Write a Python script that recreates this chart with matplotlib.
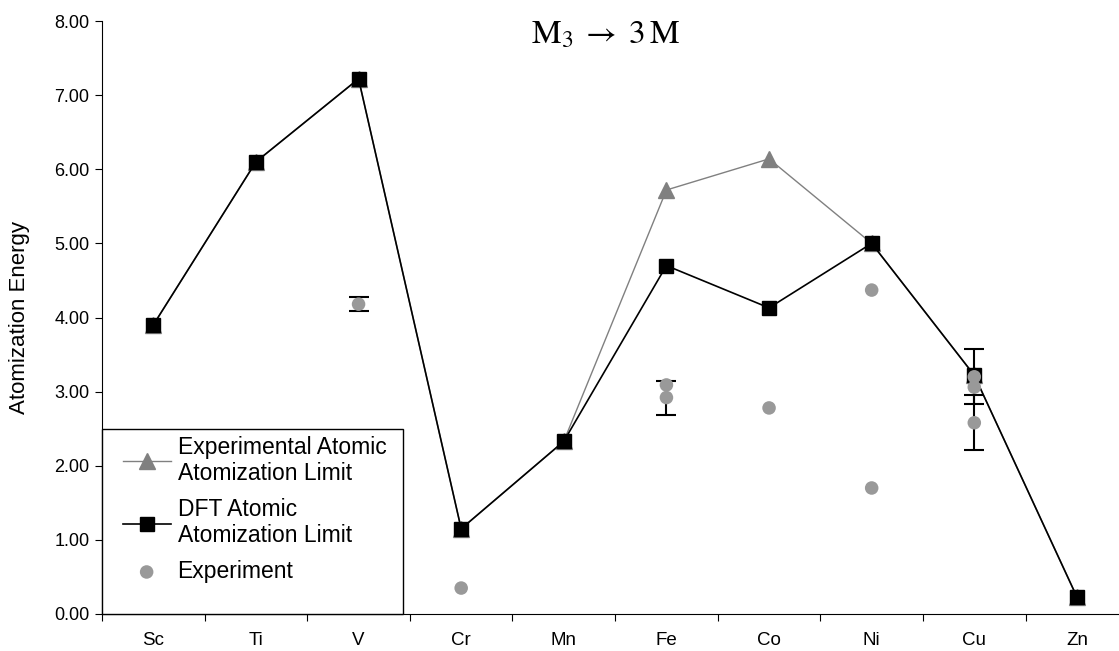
import matplotlib.pyplot as plt
import matplotlib.patches as mpatches
import numpy as np

plt.rcParams['font.family'] = ['Liberation Sans', 'DejaVu Sans']
plt.rcParams['mathtext.fontset'] = 'stix'

# Data
metals = ['Sc', 'Ti', 'V', 'Cr', 'Mn', 'Fe', 'Co', 'Ni', 'Cu', 'Zn']
exp_atomic_limit = [3.90, 6.10, 7.22, 1.15, 2.33, 5.72, 6.14, 5.00, 3.22, 0.23]
dft_atomic_limit = [3.90, 6.10, 7.22, 1.15, 2.33, 4.70, 4.13, 5.00, 3.22, 0.23]

# experiment points: metal index, value, error (0 = no bar)
exp_idx = [2, 3, 5, 5, 6, 7, 7, 8, 8, 8]
exp_val = [4.18, 0.35, 3.09, 2.92, 2.78, 4.37, 1.70, 3.20, 3.06, 2.58]
exp_err = [0.09, 0.0, 0.0, 0.23, 0.0, 0.0, 0.0, 0.37, 0.0, 0.37]

W, H = 1119, 651
fig = plt.figure(figsize=(W/100, H/100), dpi=100)
ax = fig.add_axes([102/W, 37/H, 1 - 102/W, (614-21)/H])

x = np.arange(len(metals))

l1, = ax.plot(x, exp_atomic_limit, color='#808080', lw=1, marker='^', ms=11,
              mfc='#808080', mec='#808080', label='Experimental Atomic\nAtomization Limit', zorder=2)
l2, = ax.plot(x, dft_atomic_limit, color='black', lw=1.2, marker='s', ms=10.5,
              mfc='black', mec='black', label='DFT Atomic\nAtomization Limit', zorder=3)

# error bars
for i, v, e in zip(exp_idx, exp_val, exp_err):
    if e > 0:
        ax.errorbar(i, v, yerr=e, fmt='none', ecolor='black', elinewidth=1.5,
                    capsize=7, capthick=1.5, zorder=4)
l3 = ax.scatter(exp_idx, exp_val, s=95, color='#999999', edgecolors='none',
                label='Experiment', zorder=5)

ax.set_xlim(-0.5, 9.41)
ax.set_ylim(0, 8)
ax.set_yticks(np.arange(0, 8.01, 1))
ax.set_yticklabels(['%.2f' % v for v in np.arange(0, 8.01, 1)], fontsize=13)
ax.set_xticks(np.arange(-0.5, 9.5, 1))
ax.set_xticklabels([])
ax.set_xticks(x, minor=True)
ax.set_xticklabels(metals, minor=True, fontsize=13.5)
ax.tick_params(axis='x', which='minor', length=0, pad=13)
ax.tick_params(axis='x', which='major', length=5, direction='out')
ax.tick_params(axis='y', length=5, direction='out', pad=4)
ax.spines['top'].set_visible(False)
ax.spines['right'].set_visible(False)
ax.set_ylabel('Atomization Energy', fontsize=16)
ax.yaxis.set_label_coords((30 - 102) / (W - 102), 0.5)

fig.text(605/W, 1 - 43/H, r'$\mathrm{M_3 \;\rightarrow\; 3\,M}$',
         ha='center', va='baseline', fontsize=24)

# legend box
frame = mpatches.Rectangle((102/W, 37/H), (403-102)/W, (614-429)/H, transform=fig.transFigure,
                           fill=True, facecolor='white', edgecolor='black', lw=1, zorder=10)
fig.patches.append(frame)
leg = fig.legend(handles=[l1, l2, l3], loc='upper left', bbox_to_anchor=(118/W, 1 - 431/H),
                 fontsize=16.5, frameon=False, borderaxespad=0, borderpad=0.2,
                 handlelength=2.1, labelspacing=0.55, handletextpad=0.3)
leg.set_zorder(11)
for t in leg.get_texts():
    t.set_linespacing(1.2)

fig.savefig('out.png', dpi=100)
